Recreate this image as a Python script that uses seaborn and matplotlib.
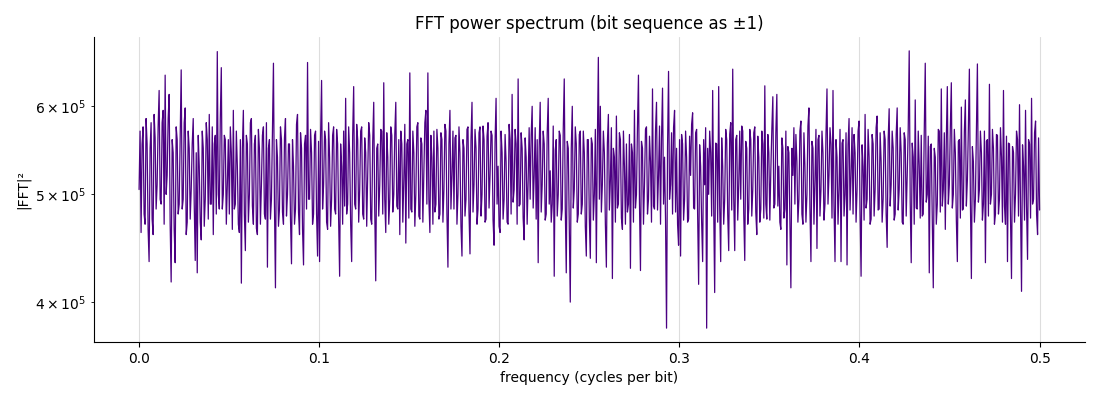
import numpy as np
import matplotlib
matplotlib.use("Agg")
import matplotlib.pyplot as plt
import seaborn as sns

# |FFT|^2 values, in units of 1e5 (one row per ~0.0166 of frequency)
power_1e5 = [
    5.05, 5.70, 4.62, 5.55, 5.75, 4.80, 4.70, 5.85, 5.55, 4.65, 4.35, 5.50, 5.80, 4.75, 4.60, 5.90, 5.62, 4.85, 5.10, 5.75, 6.20, 4.95, 4.90, 5.80, 5.95, 4.70, 6.40, 5.00, 5.20, 5.85,
    6.15, 4.70, 4.17, 5.60, 5.45, 4.65, 4.34, 5.75, 5.60, 4.80, 4.90, 5.65, 6.47, 4.85, 4.95, 5.80, 5.98, 4.60, 4.72, 5.70, 5.50, 4.75, 5.05, 5.55, 5.85, 4.90, 4.36, 5.45, 4.25, 5.65,
    5.30, 4.72, 4.55, 5.70, 5.50, 4.68, 4.95, 5.80, 5.60, 4.75, 5.90, 4.90, 4.90, 5.75, 4.60, 5.55, 5.65, 4.80, 6.72, 5.00, 4.85, 5.85, 6.50, 4.85, 5.00, 5.65, 5.60, 4.70, 5.10, 5.60,
    4.80, 5.75, 5.45, 4.65, 5.95, 4.85, 4.90, 5.70, 5.30, 4.70, 4.62, 5.60, 4.16, 5.50, 5.95, 4.80, 4.45, 5.65, 5.55, 4.72, 5.00, 5.80, 5.85, 4.88, 4.70, 5.55, 5.65, 4.66, 4.60, 5.72,
    5.50, 4.70, 5.10, 5.65, 5.75, 4.80, 4.75, 5.80, 4.30, 5.50, 5.60, 4.75, 4.95, 5.70, 6.56, 4.90, 4.12, 5.60, 5.40, 4.68, 4.85, 5.75, 5.60, 4.82, 4.70, 5.62, 5.85, 4.78, 5.00, 5.55,
    5.55, 4.75, 4.33, 5.60, 5.30, 4.70, 4.85, 5.78, 5.90, 4.82, 4.60, 5.68, 5.50, 4.65, 4.32, 5.55, 5.65, 4.85, 6.57, 4.95, 4.95, 5.72, 5.45, 4.70, 4.80, 5.65, 5.70, 4.80, 4.40, 5.58,
    4.35, 5.62, 6.33, 4.85, 5.10, 5.70, 5.60, 4.72, 4.65, 5.80, 5.40, 4.68, 4.95, 5.65, 5.75, 4.85, 4.80, 5.72, 5.55, 4.75, 4.22, 5.55, 5.30, 4.70, 5.70, 4.88, 6.10, 4.80, 4.90, 5.75,
    5.45, 4.70, 4.35, 5.65, 6.25, 4.90, 4.85, 5.78, 5.60, 4.72, 5.05, 5.70, 5.75, 4.80, 4.75, 5.62, 5.45, 4.68, 5.20, 5.80, 5.65, 4.75, 4.70, 5.58, 6.05, 4.85, 4.18, 5.50, 5.55, 4.78,
    5.10, 5.72, 5.70, 4.80, 6.30, 4.95, 4.62, 5.68, 5.40, 4.70, 4.95, 5.75, 5.65, 4.82, 5.00, 5.66, 6.05, 4.88, 4.85, 5.60, 4.60, 5.70, 5.55, 4.72, 5.15, 5.78, 4.52, 5.55, 5.60, 4.76,
    6.43, 4.85, 4.82, 5.70, 5.45, 4.68, 5.00, 5.75, 5.80, 4.78, 4.75, 5.62, 5.55, 4.72, 5.25, 5.80, 5.95, 4.90, 6.43, 4.95, 4.62, 5.65, 5.40, 4.70, 5.70, 4.82, 4.90, 5.72, 5.50, 4.75,
    4.80, 5.68, 5.60, 4.72, 5.05, 5.78, 5.70, 4.80, 4.30, 5.55, 5.95, 4.85, 5.20, 5.70, 4.85, 5.62, 5.65, 4.70, 5.00, 5.75, 5.45, 4.68, 4.40, 5.60, 5.50, 4.78, 4.95, 5.72, 5.75, 4.82,
    4.42, 5.60, 6.05, 4.82, 5.10, 5.72, 5.50, 4.70, 4.85, 5.68, 5.75, 4.78, 5.00, 5.76, 5.60, 4.72, 4.75, 5.64, 5.80, 4.86, 5.20, 5.70, 5.65, 4.74, 4.50, 5.58, 6.10, 4.90, 5.30, 4.68,
    4.62, 5.70, 5.45, 4.75, 4.95, 5.66, 5.35, 4.72, 4.70, 5.78, 5.60, 4.80, 6.15, 4.92, 5.05, 5.72, 5.55, 4.70, 6.35, 4.88, 4.90, 5.68, 5.50, 4.76, 4.55, 5.62, 5.40, 4.70, 5.15, 5.74,
    4.95, 5.65, 6.00, 4.86, 5.20, 5.74, 4.75, 5.60, 4.34, 5.52, 6.05, 4.82, 5.10, 5.70, 5.55, 4.74, 4.80, 5.68, 6.10, 4.90, 5.25, 4.72, 4.90, 5.76, 4.22, 5.48, 5.60, 4.78, 5.00, 5.70,
    5.65, 4.74, 4.85, 5.72, 6.35, 4.88, 4.25, 5.58, 5.50, 4.70, 4.00, 5.50, 6.00, 4.86, 5.05, 5.75, 5.55, 4.72, 4.80, 5.66, 5.70, 4.80, 4.90, 5.70, 5.45, 4.68, 4.40, 5.60, 5.60, 4.76,
    4.38, 5.62, 5.55, 4.74, 5.00, 5.72, 4.34, 5.55, 6.64, 4.95, 6.00, 4.82, 5.10, 5.70, 5.45, 4.70, 4.30, 5.56, 5.90, 4.84, 5.15, 5.74, 4.20, 5.50, 5.40, 4.72, 5.88, 4.86, 4.90, 5.68,
    5.60, 4.76, 4.65, 5.70, 5.30, 4.70, 5.55, 4.82, 4.90, 5.66, 4.29, 5.55, 5.45, 4.72, 5.95, 4.86, 5.00, 5.74, 6.40, 4.92, 4.27, 5.58, 5.50, 4.70, 5.10, 5.72, 5.75, 4.80, 4.95, 5.64,
    5.35, 4.72, 6.22, 4.88, 4.85, 5.70, 6.05, 4.84, 5.20, 5.76, 4.70, 5.62, 6.23, 4.90, 5.40, 4.74, 3.79, 5.52, 6.45, 4.95, 5.10, 5.68, 4.80, 5.74, 5.95, 4.82, 5.50, 4.70, 4.50, 5.60,
    4.40, 5.66, 5.55, 4.74, 4.95, 5.70, 5.40, 4.72, 4.75, 5.64, 5.20, 5.78, 5.92, 4.86, 4.85, 5.68, 5.72, 4.80, 4.15, 5.54, 5.30, 4.72, 4.35, 5.60, 5.10, 5.74, 3.79, 5.50, 5.00, 5.70,
    5.45, 4.78, 6.20, 4.90, 4.08, 5.56, 5.55, 4.72, 6.25, 4.88, 4.35, 5.62, 5.30, 4.70, 4.95, 5.72, 5.60, 4.80, 4.45, 5.66, 5.80, 4.84, 6.48, 4.96, 4.45, 5.60, 5.65, 4.74, 5.10, 5.70,
    4.95, 5.76, 5.70, 4.80, 4.36, 5.58, 5.50, 4.70, 4.85, 5.72, 5.60, 4.78, 5.05, 5.68, 5.75, 4.82, 4.60, 5.64, 5.40, 4.72, 4.85, 5.70, 5.55, 4.76, 6.26, 4.90, 4.75, 5.66, 5.45, 4.74,
    5.25, 5.72, 6.12, 4.86, 4.90, 5.68, 6.15, 4.88, 5.30, 4.72, 4.65, 5.62, 5.50, 4.76, 4.85, 5.70, 4.32, 5.52, 5.45, 4.70, 4.12, 5.50, 5.20, 5.74, 4.90, 5.66, 5.35, 4.72, 4.95, 5.70,
    5.82, 4.80, 4.70, 5.68, 5.30, 4.72, 5.00, 5.76, 5.98, 4.86, 4.35, 5.58, 5.50, 4.70, 5.15, 5.72, 4.47, 5.60, 5.65, 4.78, 5.05, 5.70, 5.45, 4.74, 4.90, 5.66, 6.22, 4.90, 5.20, 5.74,
    5.55, 4.76, 6.20, 4.88, 4.35, 5.60, 5.40, 4.70, 5.05, 5.72, 4.35, 5.56, 5.60, 4.78, 5.00, 5.68, 4.32, 5.54, 5.85, 4.84, 5.20, 5.74, 4.80, 5.66, 5.45, 4.72, 5.05, 5.70, 5.82, 4.82,
    4.22, 5.54, 5.30, 4.74, 5.90, 4.86, 4.95, 5.72, 5.40, 4.70, 4.75, 5.66, 5.55, 4.78, 5.05, 5.74, 5.88, 4.84, 4.85, 5.68, 5.35, 4.72, 4.95, 5.70, 5.60, 4.80, 4.48, 5.60, 5.97, 4.88,
    5.10, 5.70, 5.50, 4.74, 4.80, 5.66, 5.98, 4.84, 5.05, 5.74, 5.45, 4.72, 4.70, 5.68, 5.60, 4.78, 5.20, 5.72, 6.73, 4.92, 4.34, 5.56, 5.40, 4.70, 6.08, 4.86, 4.85, 5.70, 5.30, 4.76,
    5.65, 4.78, 4.80, 5.70, 6.56, 4.92, 5.00, 5.64, 4.25, 5.52, 5.55, 4.74, 4.12, 5.50, 5.40, 4.70, 4.90, 5.72, 5.70, 4.82, 6.22, 4.88, 5.05, 5.68, 4.65, 5.60, 6.25, 4.90, 5.10, 5.74,
    6.30, 4.86, 5.00, 5.72, 5.45, 4.74, 4.35, 5.58, 5.60, 4.76, 5.99, 4.84, 4.85, 5.70, 6.08, 4.88, 5.15, 5.74, 6.48, 4.94, 4.20, 5.52, 5.35, 4.72, 4.95, 5.68, 6.55, 4.92, 5.05, 5.70,
    5.45, 4.74, 4.90, 5.70, 4.34, 5.58, 5.60, 4.78, 6.28, 4.90, 5.00, 5.72, 5.50, 4.70, 4.80, 5.66, 5.65, 4.80, 4.95, 5.74, 5.40, 4.72, 6.20, 4.88, 4.70, 5.64, 4.35, 5.56, 5.55, 4.76,
    4.20, 5.52, 5.45, 4.72, 5.00, 5.70, 5.60, 4.78, 6.02, 4.86, 4.09, 5.54, 5.30, 4.74, 5.95, 4.88, 4.37, 5.60, 5.55, 4.76, 6.10, 4.90, 4.95, 5.68, 5.82, 4.80, 4.60, 5.62, 4.84,
]
f_min, f_max = 0.0, 0.5

power = np.array(power_1e5) * 1e5
freq = np.linspace(f_min, f_max, len(power))

sns.set_style("ticks", {
    "text.color": "black",
    "axes.labelcolor": "black",
    "axes.edgecolor": "black",
    "xtick.color": "black",
    "ytick.color": "black",
})
fig, ax = plt.subplots(figsize=(11, 4), dpi=100)
fig.subplots_adjust(left=0.0855, right=0.986, top=0.9075, bottom=0.145)

sns.lineplot(x=freq, y=power, color="indigo", linewidth=0.9, ax=ax)
ax.set_yscale("log")
ax.grid(axis="x", color="#dddddd", linewidth=0.8)
ax.set_axisbelow(True)
sns.despine(ax=ax)

ax.set_title("FFT power spectrum (bit sequence as ±1)", fontsize=12)
ax.set_xlabel("frequency (cycles per bit)")
ax.set_ylabel("|FFT|²")

fig.savefig("out.png")
